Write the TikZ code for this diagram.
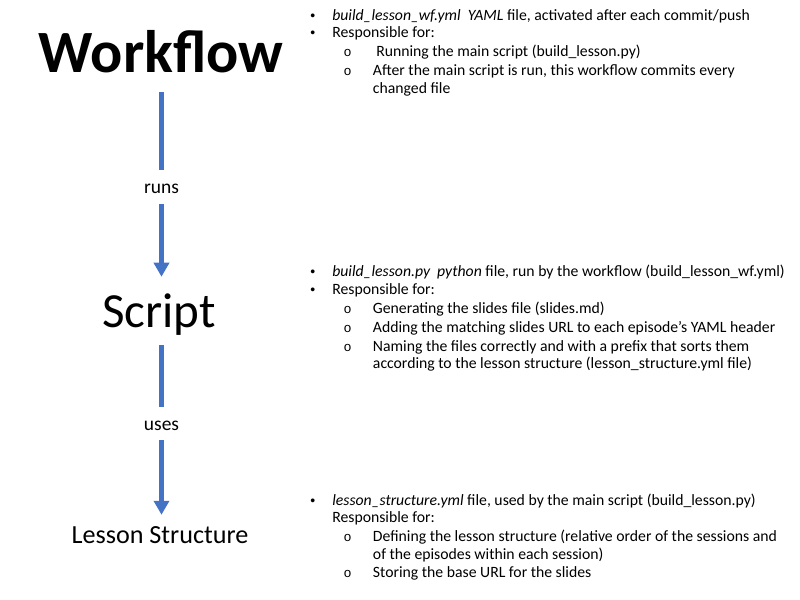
\documentclass[tikz,border=0pt]{standalone}
\usepackage{fontspec}
\setmainfont{Carlito}
\newfontfamily\monofont{Liberation Mono}
\newfontfamily\bulfont{Liberation Sans}
\usetikzlibrary{arrows.meta}
\definecolor{arrowblue}{HTML}{4472C4}
\begin{document}
\begin{tikzpicture}[x=0.75pt,y=-0.75pt,
  body/.style={font=\fontsize{11.8}{14}\selectfont, anchor=base west, inner sep=0pt},
  bul/.style={font=\bulfont\fontsize{10.5}{12}\selectfont, anchor=base, inner sep=0pt},
  subbul/.style={font=\monofont\fontsize{10}{12}\selectfont, anchor=base, inner sep=0pt},
  conn/.style={draw=arrowblue, line width=3.75pt},
  arr/.style={conn, -{Triangle[width=11.25pt,length=10.5pt]}},
  lbl/.style={font=\fontsize{14.6}{16}\selectfont, text height=10pt, text depth=0pt, minimum height=24.4pt, inner sep=0pt}
]
\useasboundingbox (0,0) rectangle (800,600);

% left column
\node[font=\bfseries\fontsize{45}{50}\selectfont, anchor=base, inner xsep=0pt, inner ysep=15pt, text depth=0pt] (wf) at (161,72) {Workflow};
\node[lbl] (runs) at (161.5,187) {runs};
\node[font=\fontsize{36.8}{42}\selectfont, anchor=base, text height=24pt, text depth=0pt, inner xsep=0pt, inner ysep=13.5pt] (script) at (159,327) {Script};
\node[lbl] (uses) at (161.5,423.5) {uses};
\node[font=\fontsize{19.6}{23}\selectfont, anchor=base, text height=21.2pt, text depth=0pt, inner sep=0pt] (ls) at (160,543.3) {Lesson Structure};

\draw[conn] (runs.north |- wf.south) -- (runs.north);
\draw[arr] (runs.south) -- (runs.south |- script.north);
\draw[conn] (uses.north |- script.south) -- (uses.north);
\draw[arr] (uses.south) -- (uses.south |- ls.north);

% block 1
\node[bul] (b1a) at (312.7,20) {•};
\node[body] (t1a) at (332,20) {\textit{build\_lesson\_wf.yml\ \ YAML} file, activated after each commit/push};
\node[bul] (b1b) at (312.7,37.7) {•};
\node[body] (t1b) at (332,37.7) {Responsible for:};
\node[subbul] (s1a) at (347.7,56.7) {o};
\node[body] (t1c) at (376,56.7) {Running the main script (build\_lesson.py)};
\node[subbul] (s1b) at (347.7,75.7) {o};
\node[body] (t1d) at (372.7,75.7) {After the main script is run, this workflow commits every};
\node[body] (t1e) at (372.7,93) {changed file};

% block 2
\node[bul] (b2a) at (312.7,276.7) {•};
\node[body] (t2a) at (332,276.7) {\textit{build\_lesson.py\ \ python} file, run by the workflow (build\_lesson\_wf.yml)};
\node[bul] (b2b) at (312.7,294.3) {•};
\node[body] (t2b) at (332,294.3) {Responsible for:};
\node[subbul] (s2a) at (347.7,313.3) {o};
\node[body] (t2c) at (372.7,313.3) {Generating the slides file (slides.md)};
\node[subbul] (s2b) at (347.7,332.3) {o};
\node[body] (t2d) at (372.7,332.3) {Adding the matching slides URL to each episode’s YAML header};
\node[subbul] (s2c) at (347.7,351) {o};
\node[body] (t2e) at (372.7,351) {Naming the files correctly and with a prefix that sorts them};
\node[body] (t2f) at (372.7,368.3) {according to the lesson structure (lesson\_structure.yml file)};

% block 3
\node[bul] (b3a) at (312.7,505) {•};
\node[body] (t3a) at (332,505) {\textit{lesson\_structure.yml} file, used by the main script (build\_lesson.py)};
\node[body] (t3b) at (332,522.3) {Responsible for:};
\node[subbul] (s3a) at (347.7,541.7) {o};
\node[body] (t3c) at (372.7,541.7) {Defining the lesson structure (relative order of the sessions and};
\node[body] (t3d) at (372.7,559) {of the episodes within each session)};
\node[subbul] (s3b) at (347.7,577.3) {o};
\node[body] (t3e) at (372.7,577.3) {Storing the base URL for the slides};
\end{tikzpicture}
\end{document}
